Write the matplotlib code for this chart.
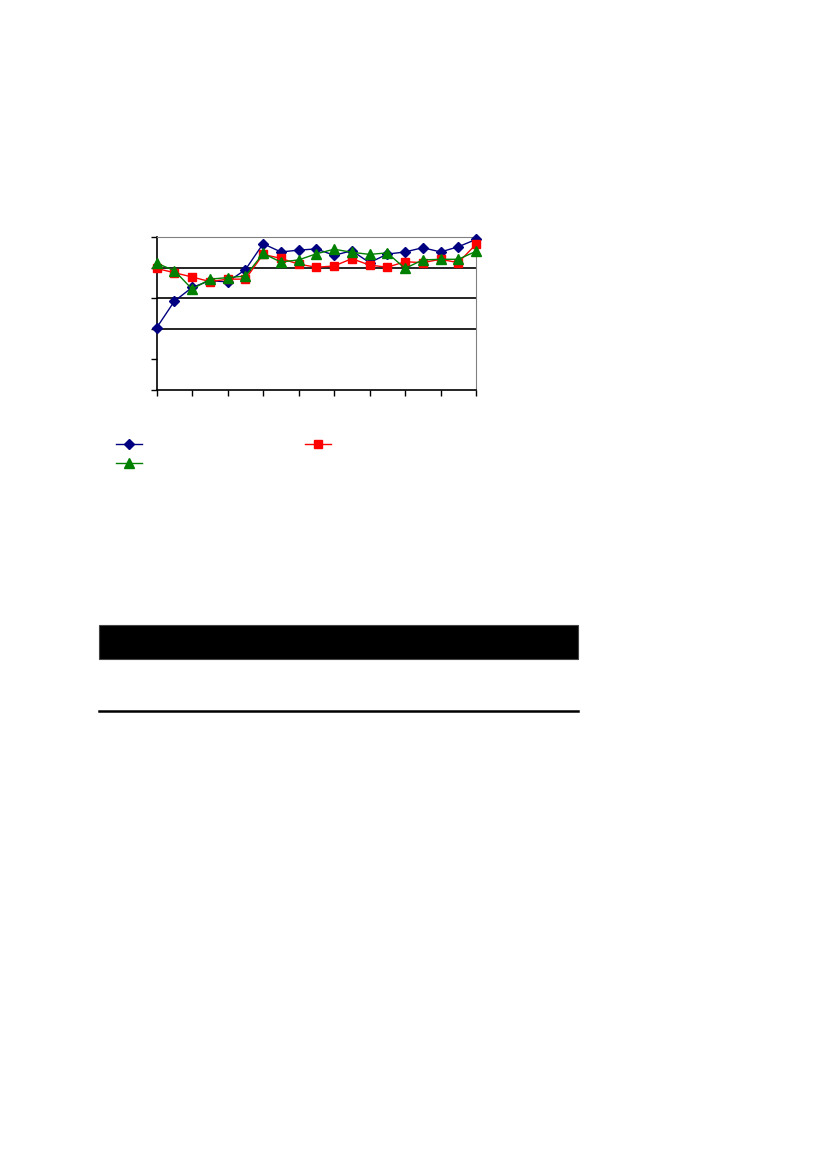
import numpy as np
import matplotlib.pyplot as plt
from matplotlib.patches import Rectangle
from matplotlib.lines import Line2D

W, H = 827, 1169

# Series (19 points each)
x_idx = list(range(19))
blue_vals = [2.04, 2.91, 3.36, 3.58, 3.54, 3.94, 4.79, 4.52, 4.58, 4.62,
             4.41, 4.56, 4.17, 4.45, 4.52, 4.66, 4.52, 4.69, 4.93]
red_vals = [3.98, 3.84, 3.70, 3.55, 3.63, 3.63, 4.44, 4.31, 4.12, 4.02,
            4.06, 4.30, 4.09, 4.02, 4.20, 4.17, 4.28, 4.17, 4.77]
green_vals = [4.15, 3.91, 3.30, 3.63, 3.68, 3.73, 4.47, 4.19, 4.26, 4.46,
              4.61, 4.51, 4.44, 4.49, 3.98, 4.26, 4.28, 4.28, 4.54]
y_ticks = [0, 1, 2, 3, 4, 5]
grid_levels = [2, 3, 4]
x_ticks = list(range(0, 19, 2))

fig = plt.figure(figsize=(W / 100, H / 100), dpi=100)
fig.patch.set_facecolor('white')

# axes placed in pixel terms of the page
left, right, top, bottom = 156.7, 476.0, 237.3, 390.0
ax = fig.add_axes([left / W, 1 - bottom / H, (right - left) / W, (bottom - top) / H])

for lvl in grid_levels:
    ax.axhline(lvl, color='black', lw=1.2, zorder=1)

l1, = ax.plot(x_idx, blue_vals, color='#000080', lw=1, marker='D', ms=5,
              markerfacecolor='#000080', markeredgecolor='#000080', zorder=3)
l2, = ax.plot(x_idx, red_vals, color='#FF0000', lw=1, marker='s', ms=5.5,
              markerfacecolor='#FF0000', markeredgecolor='#FF0000', zorder=3)
l3, = ax.plot(x_idx, green_vals, color='#008000', lw=1, marker='^', ms=6.5,
              markerfacecolor='#008000', markeredgecolor='#008000', zorder=3)

ax.set_xlim(0, 18)
ax.set_ylim(0, 5)
ax.set_xticks(x_ticks)
ax.set_yticks(y_ticks)
ax.set_xticklabels([])
ax.set_yticklabels([])
ax.tick_params(direction='out', length=4, width=1, color='black')
ax.spines['left'].set_color('black')
ax.spines['bottom'].set_color('black')
ax.spines['left'].set_linewidth(1.2)
ax.spines['bottom'].set_linewidth(1.2)
ax.spines['top'].set_color('#808080')
ax.spines['right'].set_color('#808080')
for sp in ax.spines.values():
    sp.set_zorder(2)
for sp in ['left', 'bottom']:
    ax.spines[sp].set_clip_on(False)
# markers sitting on the axes must not be cut
for ln in (l1, l2, l3):
    ln.set_clip_on(False)

# legend below the chart, labels are blank in the reference
ax.legend([l1, l3, l2], [' ', ' ', ' '], ncol=2, frameon=False,
          loc='upper left', bbox_to_anchor=(116 / W, 1 - 438 / H),
          bbox_transform=fig.transFigure, borderpad=0, borderaxespad=0,
          handlelength=1.9, handletextpad=0.2, columnspacing=11.2,
          labelspacing=0.35, fontsize=10)

# black table header bar and rule below it
fig.add_artist(Rectangle((99 / W, 1 - 659 / H), (578 - 99) / W, (659 - 625) / H,
                         transform=fig.transFigure, facecolor='black',
                         edgecolor='#444444', lw=0.8))
fig.add_artist(Line2D([99 / W, 578 / W], [1 - 711 / H, 1 - 711 / H],
                      transform=fig.transFigure, color='black', lw=1.8))

fig.savefig('out.png', dpi=100, facecolor='white')
